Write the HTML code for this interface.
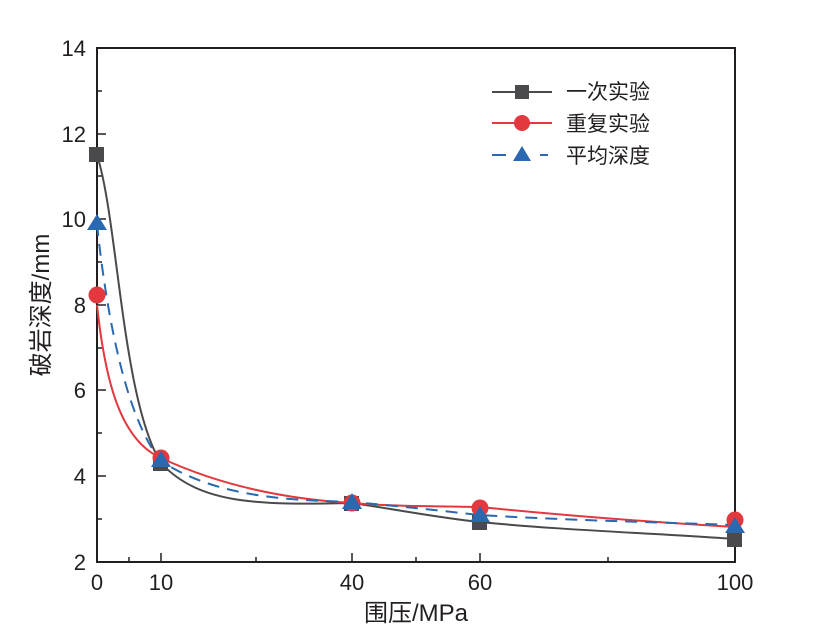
<!DOCTYPE html>
<html><head><meta charset="utf-8"><style>
body{margin:0;background:#fff}
svg text{font-family:"Liberation Sans","Noto Sans CJK SC",sans-serif;fill:#231f20}
</style></head><body>
<svg width="826" height="639" viewBox="0 0 826 639">
<rect x="97" y="48" width="638" height="514" fill="none" stroke="#231f20" stroke-width="2"/>
<g stroke="#231f20" stroke-width="1.5">
<line x1="97" y1="476" x2="106" y2="476"/><line x1="97" y1="390" x2="106" y2="390"/><line x1="97" y1="305" x2="106" y2="305"/><line x1="97" y1="219" x2="106" y2="219"/><line x1="97" y1="134" x2="106" y2="134"/>
<line x1="97" y1="519" x2="102" y2="519"/><line x1="97" y1="433" x2="102" y2="433"/><line x1="97" y1="348" x2="102" y2="348"/><line x1="97" y1="262" x2="102" y2="262"/><line x1="97" y1="176" x2="102" y2="176"/><line x1="97" y1="91" x2="102" y2="91"/>
<line x1="161" y1="562" x2="161" y2="553"/><line x1="352" y1="562" x2="352" y2="553"/><line x1="480" y1="562" x2="480" y2="553"/>
<line x1="129" y1="562" x2="129" y2="557"/><line x1="256" y1="562" x2="256" y2="557"/><line x1="416" y1="562" x2="416" y2="557"/><line x1="608" y1="562" x2="608" y2="557"/>
</g>
<g font-size="22" text-anchor="end">
<text x="86" y="570">2</text><text x="86" y="484">4</text><text x="86" y="398">6</text><text x="86" y="313">8</text><text x="86" y="227">10</text><text x="86" y="142">12</text><text x="86" y="56">14</text>
</g>
<g font-size="22" text-anchor="middle">
<text x="97" y="590">0</text><text x="161" y="590">10</text><text x="352" y="590">40</text><text x="480" y="590">60</text><text x="735" y="590">100</text>
<text x="416" y="621" font-size="24">围压/MPa</text>
<text transform="translate(49,305) rotate(-90)" font-size="24">破岩深度/mm</text>
</g>
<path d="M97,155 C118,220 122,400 161,463 C200,505 260,505 352,503 C400,510 440,518 480,522 C560,530 650,533 735,539" fill="none" stroke="#4a4a4c" stroke-width="2"/>
<path d="M97,305 C105,380 120,440 161,458 C230,490 300,500 352,503 C400,507 440,506 480,507 C560,515 650,522 735,527" fill="none" stroke="#e2383e" stroke-width="2"/>
<path d="M97,224 C107,320 127,420 161,461 C220,500 300,500 352,502 C420,508 450,512 480,515 C560,520 650,522 735,525" fill="none" stroke="#2a68b0" stroke-width="2" stroke-dasharray="12,8"/>
<g fill="#4a4a4c"><rect x="89" y="147" width="15" height="15"/><rect x="153" y="456" width="15" height="15"/><rect x="344" y="496" width="15" height="15"/><rect x="472" y="515" width="15" height="15"/><rect x="727" y="532" width="15" height="15"/></g>
<g fill="#e2383e"><circle cx="97" cy="295" r="8.5"/><circle cx="161" cy="458" r="8.5"/><circle cx="352" cy="503" r="8.5"/><circle cx="480" cy="508" r="8.5"/><circle cx="735" cy="520" r="8.5"/></g>
<g fill="#2a68b0"><path d="M97,214 l10,16 h-20z"/><path d="M161,451 l10,16 h-20z"/><path d="M352,493 l10,16 h-20z"/><path d="M480,506 l10,16 h-20z"/><path d="M735,517 l10,16 h-20z"/></g>
<line x1="492" y1="92" x2="552" y2="92" stroke="#4a4a4c" stroke-width="2"/><rect x="515" y="85" width="14" height="14" fill="#4a4a4c"/>
<line x1="492" y1="123" x2="552" y2="123" stroke="#e2383e" stroke-width="2"/><circle cx="522" cy="123" r="8" fill="#e2383e"/>
<line x1="492" y1="155" x2="506" y2="155" stroke="#2a68b0" stroke-width="2"/><line x1="540" y1="155" x2="548" y2="155" stroke="#2a68b0" stroke-width="2"/><path d="M522,146 l9,15 h-18z" fill="#2a68b0"/>
<g font-size="21"><text x="566" y="99">一次实验</text><text x="566" y="131">重复实验</text><text x="566" y="163">平均深度</text></g>
</svg>
</body></html>
